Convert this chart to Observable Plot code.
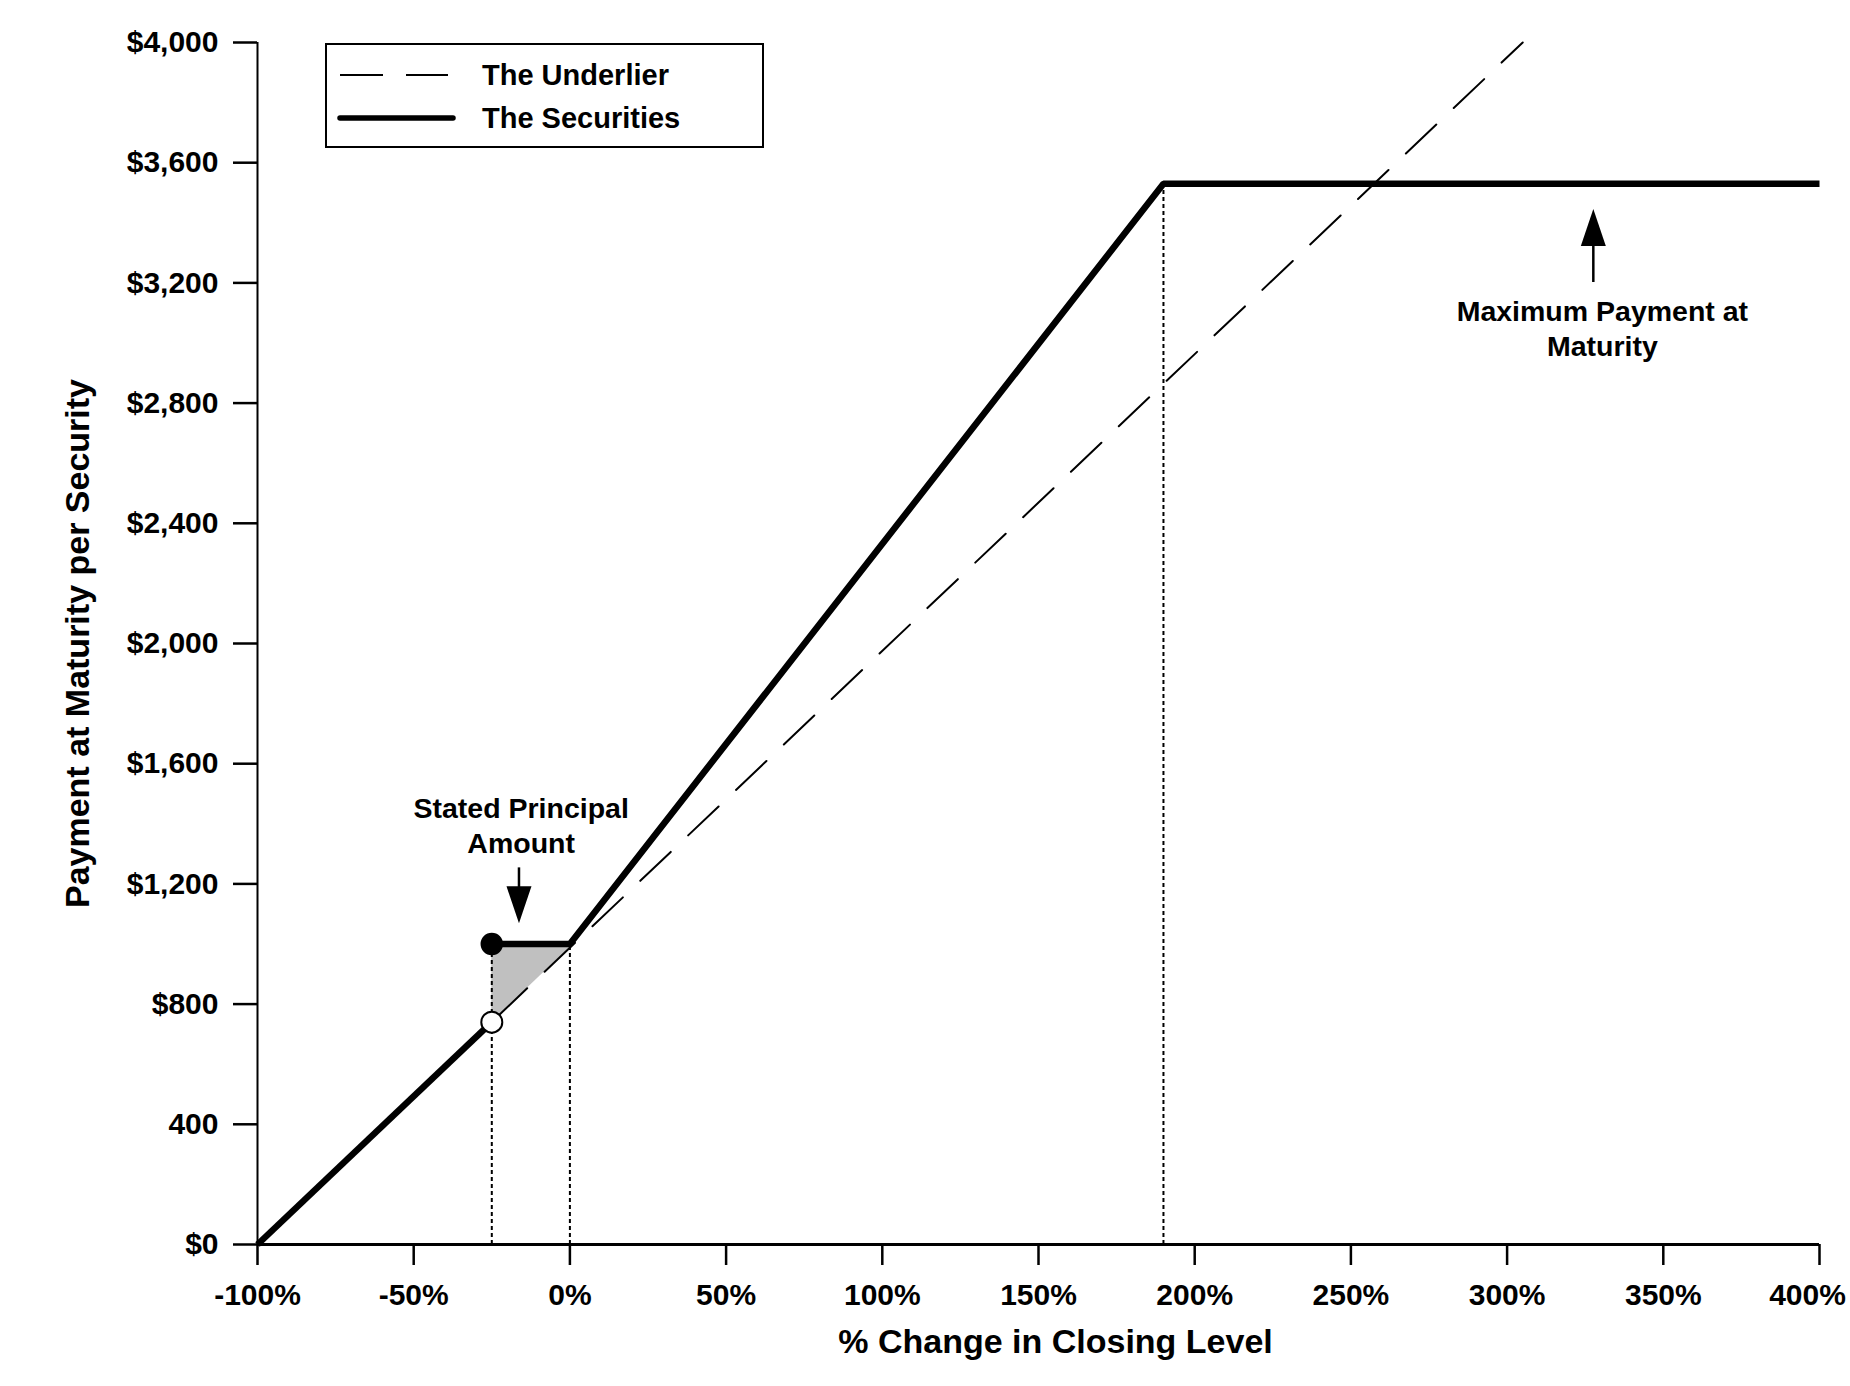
<!DOCTYPE html>
<html>
<head>
<meta charset="utf-8">
<script src="https://cdn.jsdelivr.net/npm/d3@7"></script>
<script src="https://cdn.jsdelivr.net/npm/@observablehq/plot@0.6"></script>
<style>
  html, body { margin: 0; padding: 0; background: #fff; overflow: hidden; }
  #wrap { position: relative; width: 1850px; height: 1386px; font-family: "Liberation Sans", Arial, sans-serif; }
  #legend { position: absolute; left: 325px; top: 43px; }
</style>
</head>
<body>
<div id="wrap"></div>
<script>
// ---- data ----
const xTicks = [-100, -50, 0, 50, 100, 150, 200, 250, 300, 350, 400];
const xTickLabels = ["-100%", "-50%", "0%", "50%", "100%", "150%", "200%", "250%", "300%", "350%", "400%"];
const yTicks = [0, 400, 800, 1200, 1600, 2000, 2400, 2800, 3200, 3600, 4000];
const yTickLabels = ["$0", "400", "$800", "$1,200", "$1,600", "$2,000", "$2,400", "$2,800", "$3,200", "$3,600", "$4,000"];

const underlierX = [-100, 305];
const underlierY = [0, 4000];

const securitiesSeg = [1, 1, 2, 2, 2, 2];
const securitiesX = [-100, -25, -25, 0, 190, 400];
const securitiesY = [0, 740, 1000, 1000, 3530, 3530];

const shadeX = [-25, 0];
const shadeLow = [740, 988];
const shadeHigh = [1000, 1000];

const guideX = [-25, 0, 190];
const guideTop = [1000, 1000, 3530];

const filledDot = { x: -25, y: 1000 };
const openDot = { x: -25, y: 740 };

const noteTexts = ["Stated Principal\nAmount", "Maximum Payment at\nMaturity"];
const noteX = [-15.6, 330.5];
const noteY = [1397, 3051];

const arrowX = [-16.3, 327.6];
const arrowFrom = [1255, 3203];
const arrowTip = [1069, 3446];
const arrowDir = ["down", "up"];

const legendLabels = ["The Underlier", "The Securities"];

// ---- build tables ----
const underlier = underlierX.map((x, i) => ({ x, y: underlierY[i] }));
const securities = securitiesX.map((x, i) => ({ x, y: securitiesY[i], s: securitiesSeg[i] }));
const shade = shadeX.map((x, i) => ({ x, y1: shadeLow[i], y2: shadeHigh[i] }));
const guides = guideX.map((x, i) => ({ x, y2: guideTop[i] }));
const notes = noteTexts.map((t, i) => ({ t, x: noteX[i], y: noteY[i] }));
const arrows = arrowX.map((x, i) => ({ x, y1: arrowFrom[i], y2: arrowTip[i], dir: arrowDir[i] }));

const headUp = { draw(ctx) { ctx.moveTo(0, 0); ctx.lineTo(12.5, 37); ctx.lineTo(-12.5, 37); ctx.closePath(); } };
const headDown = { draw(ctx) { ctx.moveTo(0, 0); ctx.lineTo(12.5, -37); ctx.lineTo(-12.5, -37); ctx.closePath(); } };

const FONT = '"Liberation Sans", Arial, Helvetica, sans-serif';
const lastTick = xTicks[xTicks.length - 1];

const chart = Plot.plot({
  width: 1850,
  height: 1386,
  marginLeft: 257,
  marginRight: 31,
  marginTop: 42,
  marginBottom: 142,
  style: { fontFamily: FONT, fontWeight: "bold", background: "#fff", color: "#000" },
  x: { domain: [-100, 400] },
  y: { domain: [0, 4000] },
  marks: [
    Plot.areaY(shade, { x: "x", y1: "y1", y2: "y2", fill: "#c0c0c0", fillOpacity: 1 }),
    Plot.ruleX(guides, { x: "x", y1: 0, y2: "y2", stroke: "#000", strokeWidth: 2, strokeDasharray: "4,3" }),
    Plot.line(underlier, { x: "x", y: "y", stroke: "#000", strokeWidth: 2, strokeDasharray: "42,24", strokeLinecap: "round" }),
    Plot.line(securities, { x: "x", y: "y", z: "s", stroke: "#000", strokeWidth: 6.5, strokeLinejoin: "miter", strokeLinecap: "butt" }),
    Plot.dot([filledDot], { x: "x", y: "y", r: 10.5, fill: "#000", stroke: "#000" }),
    Plot.dot([openDot], { x: "x", y: "y", r: 10.5, fill: "#fff", stroke: "#000", strokeWidth: 2 }),
    Plot.link(arrows, { x1: "x", x2: "x", y1: "y1", y2: (d) => d.y2 + (d.dir === "up" ? -80 : 80), stroke: "#000", strokeWidth: 2.5 }),
    Plot.dot(arrows.filter(d => d.dir === "up"), { x: "x", y: "y2", symbol: headUp, r: 10, fill: "#000", stroke: "none" }),
    Plot.dot(arrows.filter(d => d.dir === "down"), { x: "x", y: "y2", symbol: headDown, r: 10, fill: "#000", stroke: "none" }),
    Plot.text(notes, { x: "x", y: "y", text: "t", fontSize: 28.5, fontWeight: "bold", lineHeight: 1.23, lineAnchor: "middle", fill: "#000" }),
    Plot.ruleX([-100], { stroke: "#000", strokeWidth: 2 }),
    Plot.ruleY([0], { stroke: "#000", strokeWidth: 3 }),
    // x ticks and all labels but the last
    Plot.axisX({
      ticks: xTicks,
      tickFormat: (d) => (d === lastTick ? "" : xTickLabels[xTicks.indexOf(d)]),
      tickSize: 21,
      tickPadding: 18,
      fontSize: 30,
      fontWeight: "bold",
      strokeWidth: 2.5,
      label: null
    }),
    // last x label, nudged inside the picture as in the reference
    Plot.axisX({
      ticks: [lastTick],
      tickFormat: (d) => xTickLabels[xTicks.indexOf(d)],
      tickSize: 0,
      tickPadding: 39,
      dx: -12,
      fontSize: 30,
      fontWeight: "bold",
      label: null
    }),
    Plot.axisY({
      ticks: yTicks,
      tickFormat: (d) => yTickLabels[yTicks.indexOf(d)],
      tickSize: 24,
      tickPadding: 15,
      fontSize: 30,
      fontWeight: "bold",
      strokeWidth: 2.5,
      label: null
    }),
    Plot.text(["Payment at Maturity per Security"], { frameAnchor: "left", textAnchor: "middle", lineAnchor: "middle", text: (d) => d, rotate: -90, dx: -179, fontSize: 34, fontWeight: "bold", fill: "#000" }),
    Plot.text(["% Change in Closing Level"], { frameAnchor: "bottom", textAnchor: "middle", lineAnchor: "middle", text: (d) => d, dy: 97.5, dx: 17, fontSize: 34, fontWeight: "bold", fill: "#000" })
  ]
});

const wrap = document.getElementById("wrap");
wrap.appendChild(chart);

// ---- legend (overlay box) ----
const lw = 439, lh = 105;
const legend = d3.select(wrap).append("svg")
  .attr("id", "legend")
  .attr("width", lw).attr("height", lh)
  .style("font-family", FONT);
legend.append("rect").attr("x", 1).attr("y", 1).attr("width", lw - 2).attr("height", lh - 2)
  .attr("fill", "#fff").attr("stroke", "#000").attr("stroke-width", 2);
const rows = [
  { label: legendLabels[0], width: 2, dash: "43,23", cap: "butt", x2: 123 },
  { label: legendLabels[1], width: 5.5, dash: null, cap: "round", x2: 128 }
];
rows.forEach((r, i) => {
  const cy = 32 + i * 43;
  legend.append("line").attr("x1", 15).attr("x2", r.x2).attr("y1", cy).attr("y2", cy)
    .attr("stroke", "#000").attr("stroke-width", r.width).attr("stroke-linecap", r.cap)
    .attr("stroke-dasharray", r.dash);
  legend.append("text").attr("x", 157).attr("y", cy).attr("dy", "0.35em")
    .attr("font-size", 29).attr("font-weight", "bold").attr("fill", "#000").text(r.label);
});
</script>
</body>
</html>
